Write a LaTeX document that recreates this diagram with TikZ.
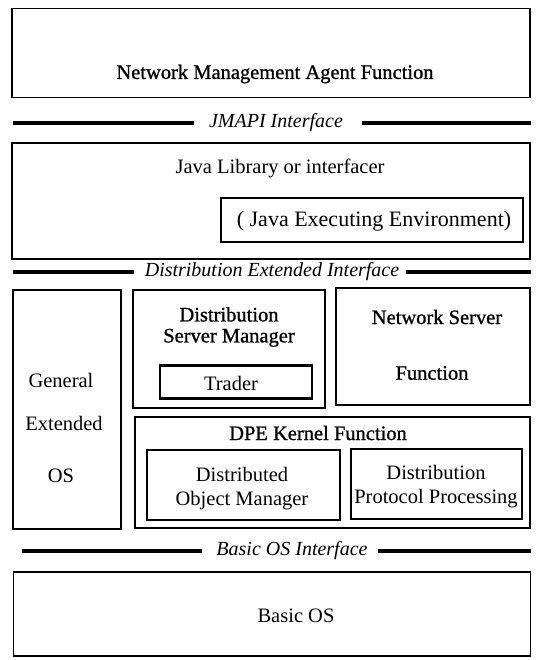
\documentclass[tikz,border=0pt]{standalone}
\usepackage{fontspec}
\setmainfont{Liberation Serif}
\newfontfamily\heavy{Liberation Serif}[FakeBold=1.0]
\begin{document}
\begin{tikzpicture}[x=1pt,y=-1pt,
  box/.style={draw, line width=1.3pt, inner sep=0pt},
  thickbox/.style={draw, line width=2.3pt, inner sep=0pt},
  txt/.style={inner sep=0pt, align=center, font=\fontsize{20.5}{24}\selectfont},
  htxt/.style={inner sep=0pt, align=center, font=\fontsize{20.5}{21}\heavy},
  itxt/.style={inner sep=0pt, font=\fontsize{20}{24}\selectfont\itshape},
  ifline/.style={line width=3.2pt}]
\useasboundingbox (0,0) rectangle (542,660);
% top box
\node[box, minimum width=518pt, minimum height=89pt] (nma) at (271,53) {};
\node[htxt] (nmat) at (275,74) {Network Management Agent Function};
% JMAPI interface
\node[itxt] (jmt) at (276,123) {JMAPI Interface};
\coordinate (jl) at (13,123);
\coordinate (jr) at (531,123);
\coordinate (jl2) at (194,123);
\coordinate (jr2) at (362,123);
\draw[ifline] (jl) -- (jl2);
\draw[ifline] (jr2) -- (jr);
% Java box
\node[box, minimum width=518pt, minimum height=116pt] (java) at (271,201) {};
\node[txt] (javat) at (280,168) {Java Library or interfacer};
\node[box, minimum width=302pt, minimum height=44pt] (jee) at (372,220) {};
\node[txt, font=\fontsize{22}{24}\selectfont] (jeet) at (374,221) {( Java Executing Environment)};
% Distribution extended interface
\node[itxt] (det) at (272,272) {Distribution Extended Interface};
\coordinate (dl) at (13,272);
\coordinate (dl2) at (134,272);
\coordinate (dr2) at (406,272);
\coordinate (dr) at (531,272);
\draw[ifline] (dl) -- (dl2);
\draw[ifline] (dr2) -- (dr);
% General extended OS
\node[box, minimum width=108pt, minimum height=239pt] (geos) at (67,409.5) {};
\node[txt] (g1) at (61,380) {General};
\node[txt] (g2) at (64,423) {Extended};
\node[txt] (g3) at (61,476) {OS};
% Distribution server manager
\node[thickbox, minimum width=192pt, minimum height=118pt] (dsm) at (229,349) {};
\node[htxt] (dsmt) at (229,327) {Distribution\\Server Manager};
\node[thickbox, minimum width=152pt, minimum height=33pt] (trader) at (236,382) {};
\node[txt] (tradert) at (231,383) {Trader};
% Network server function
\node[thickbox, minimum width=194pt, minimum height=117pt] (nsf) at (433,346.5) {};
\node[htxt] (nsf1) at (437,317) {Network Server};
\node[htxt] (nsf2) at (432,373) {Function};
% DPE kernel
\node[box, minimum width=395pt, minimum height=111pt] (dpe) at (332.5,472.5) {};
\node[htxt] (dpet) at (318,433) {DPE Kernel Function};
\node[box, minimum width=193pt, minimum height=70pt] (dom) at (243.5,485) {};
\node[txt] (domt) at (242,489) {Distributed\\Object Manager};
\node[box, minimum width=171pt, minimum height=70pt] (dpp) at (436.5,484) {};
\node[txt] (dppt) at (436,487) {Distribution\\Protocol Processing};
% Basic OS interface
\node[itxt] (bot) at (292,551) {Basic OS Interface};
\coordinate (bl) at (22,551);
\coordinate (bl2) at (202,551);
\coordinate (br2) at (378,551);
\coordinate (br) at (531,551);
\draw[ifline] (bl) -- (bl2);
\draw[ifline] (br2) -- (br);
% Basic OS
\node[box, minimum width=517pt, minimum height=84pt] (bos) at (272,614) {};
\node[txt] (bost) at (296,616) {Basic OS};
\end{tikzpicture}
\end{document}
